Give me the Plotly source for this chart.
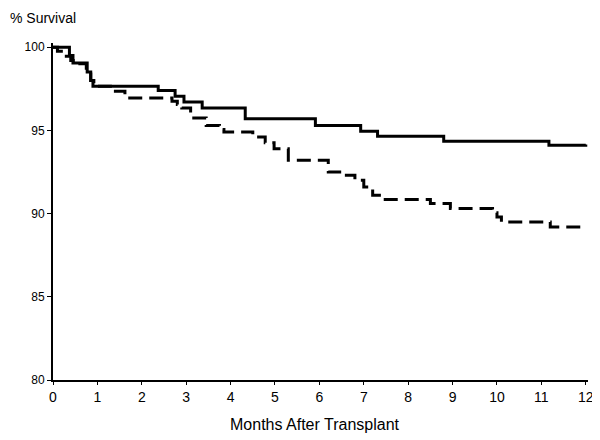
import plotly.graph_objects as go

# Solid curve (group 1) - Kaplan-Meier steps
solid_months = [0, 0.37, 0.45, 0.77, 0.85, 0.9, 2.37, 2.75, 2.95, 3.36, 4.33, 5.91, 6.93, 7.31, 8.8, 11.17, 12.0]
solid_surv = [100, 99.5, 99.05, 98.5, 98.0, 97.65, 97.4, 97.05, 96.7, 96.35, 95.7, 95.3, 94.95, 94.65, 94.35, 94.1, 94.15]

# Dashed curve (group 2)
dashed_months = [0, 0.1, 0.3, 0.4, 0.5, 0.75, 0.85, 0.92, 1.33, 1.62, 2.68, 2.8, 2.9, 3.1, 3.45,
                 3.75, 3.85, 4.5, 4.78, 4.98, 5.3, 6.2, 6.5, 6.8, 7.0, 7.2, 7.4, 8.5, 8.95,
                 9.9, 10.0, 10.1, 11.2, 12.0]
dashed_surv = [100, 99.75, 99.45, 99.2, 99.0, 98.5, 98.0, 97.65, 97.35, 96.95, 96.75, 96.55, 96.35, 95.75, 95.3,
               95.05, 94.9, 94.6, 94.25, 93.9, 93.2, 92.5, 92.3, 92.0, 91.6, 91.1, 90.85, 90.6, 90.3,
               90.05, 89.8, 89.5, 89.2, 89.2]

x_ticks = list(range(0, 13))
y_ticks = [80, 85, 90, 95, 100]

fig = go.Figure()
fig.add_trace(go.Scatter(x=solid_months, y=solid_surv, mode="lines",
                         line=dict(color="black", width=3, shape="hv"), showlegend=False))
fig.add_trace(go.Scatter(x=dashed_months, y=dashed_surv, mode="lines",
                         line=dict(color="black", width=3, shape="hv", dash="14px,7px"), showlegend=False))

font_family = "Liberation Sans, Arial, sans-serif"

fig.update_layout(
    width=600, height=440,
    margin=dict(l=45, r=20, t=35, b=68),
    paper_bgcolor="white", plot_bgcolor="white",
    font=dict(family=font_family, color="black"),
    xaxis=dict(range=[0, 12.05], tickvals=x_ticks, ticktext=[str(v) for v in x_ticks],
               showgrid=False, zeroline=False, showline=True, linecolor="black", linewidth=2,
               ticks="outside", ticklen=3, tickwidth=1, tickcolor="black",
               tickfont=dict(size=14, family=font_family)),
    yaxis=dict(range=[80, 100.25], tickvals=y_ticks, ticktext=[str(v) for v in y_ticks],
               showgrid=False, zeroline=False, showline=True, linecolor="black", linewidth=2,
               ticks="outside", ticklen=4, tickwidth=1, tickcolor="black",
               tickfont=dict(size=12, family=font_family)),
    annotations=[
        dict(text="% Survival", xref="paper", yref="paper", x=0, y=1, xshift=-45, yshift=35,
             xanchor="left", yanchor="top", showarrow=False, font=dict(size=14, family=font_family)),
        dict(text="Months After Transplant", xref="paper", yref="paper", x=0.49, y=0, yshift=-44,
             xanchor="center", yanchor="middle", showarrow=False, font=dict(size=16, family=font_family)),
    ],
)

fig.write_html("out.html")
